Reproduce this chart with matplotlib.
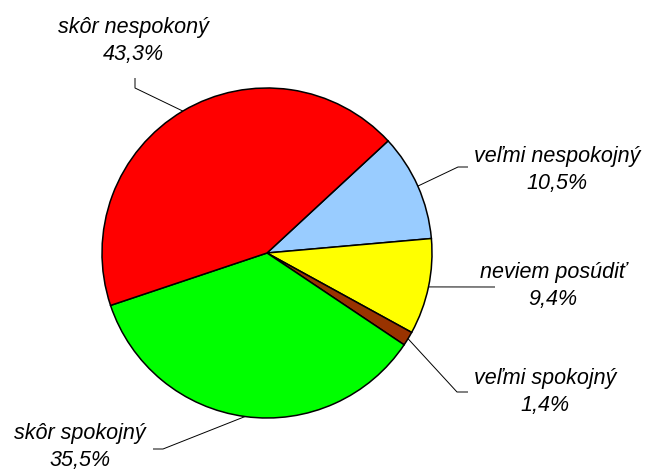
import matplotlib

matplotlib.use("Agg")
import matplotlib.pyplot as plt
import numpy as np

plt.rcParams["font.family"] = ["Liberation Sans", "DejaVu Sans"]

# data, in the drawing order (clockwise from the upper right)
labels = ["veľmi nespokojný", "neviem posúdiť", "veľmi spokojný", "skôr spokojný", "skôr nespokoný"]
values = [10.5, 9.4, 1.4, 35.5, 43.3]
colors = ["#99ccff", "#ffff00", "#993300", "#00ff00", "#ff0000"]

# layout in pixels (y measured from the top): elbow of the leader line,
# end of the horizontal stub, and centre of the label text
elbows = [(458, 167), (495, 287), (457, 392), (163, 449), (135, 88)]
stubs = [(468, 167), (495, 287), (468, 392), (153, 449), (135, 78)]
text_pos = [(557, 170), (553, 286), (545, 392), (80, 447), (133, 41)]

W, H = 652, 470
CX, CY, R = 267, 253, 165

fig = plt.figure(figsize=(W / 100, H / 100), dpi=100)
ax = fig.add_axes([0, 0, 1, 1])

wedges, _ = ax.pie(
    values,
    colors=colors,
    startangle=42.8,
    counterclock=False,
    center=(CX, H - CY),
    radius=R,
    wedgeprops={"edgecolor": "black", "linewidth": 1.1},
    frame=True,
)
ax.set_xlim(0, W)
ax.set_ylim(0, H)
ax.set_aspect("equal")
ax.axis("off")

for wedge, label, value, elbow, stub, tp in zip(wedges, labels, values, elbows, stubs, text_pos):
    mid = np.deg2rad((wedge.theta1 + wedge.theta2) / 2)
    ex = CX + R * np.cos(mid)
    ey = (H - CY) + R * np.sin(mid)
    ax.plot([ex, elbow[0], stub[0]], [ey, H - elbow[1], H - stub[1]],
            color="black", linewidth=0.7, solid_capstyle="butt")
    pct = f"{value:.1f}%".replace(".", ",")
    ax.text(tp[0], H - tp[1], f"{label}\n{pct}", ha="center", va="center",
            fontsize=15.5, fontstyle="italic", color="black", linespacing=1.4)

fig.savefig("out.png", dpi=100, facecolor="white")
